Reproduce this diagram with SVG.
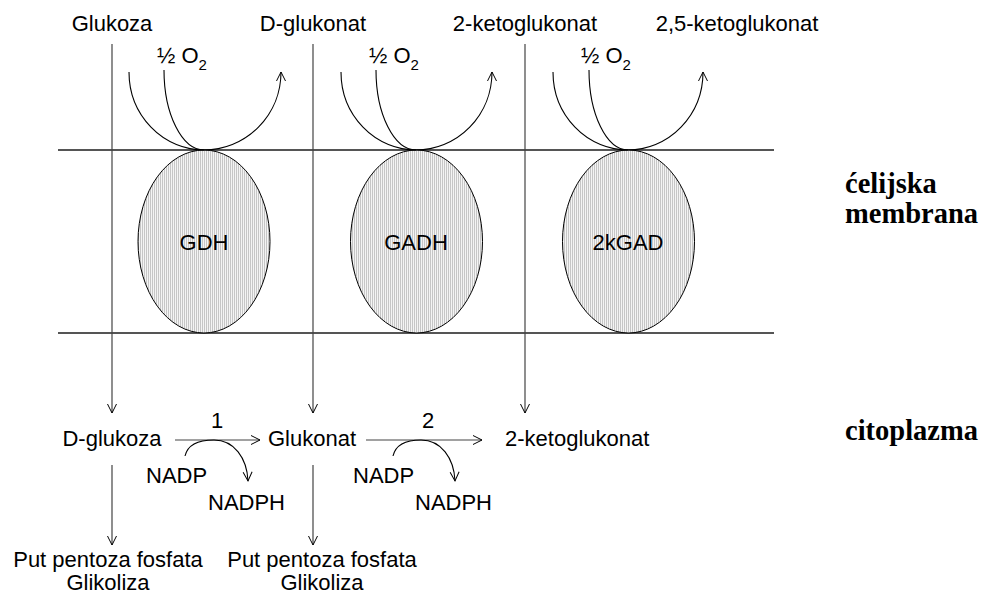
<svg xmlns="http://www.w3.org/2000/svg" width="986" height="594" viewBox="0 0 986 594">
  <defs>
    <pattern id="hatch" width="2" height="4" patternUnits="userSpaceOnUse">
      <rect width="2" height="4" fill="#f4f4f4"/>
      <rect width="1" height="4" fill="#c6c6c6"/>
    </pattern>
    <marker id="arr" viewBox="-10 -6 12 12" markerWidth="12" markerHeight="12" refX="0" refY="0" orient="auto" markerUnits="userSpaceOnUse">
      <path d="M-9,-4.5 L0,0 L-9,4.5" fill="none" stroke="#000" stroke-width="1"/>
    </marker>
  </defs>
  <style>
    .t { font-family: "Liberation Sans", Arial, sans-serif; font-size: 22px; fill: #000; }
    .m { text-anchor: middle; }
    .b { font-family: "Liberation Serif", "Times New Roman", serif; font-weight: bold; font-size: 28.5px; fill: #000; }
    .mem { stroke: #555; stroke-width: 2; fill: none; }
    .v { stroke: #444; stroke-width: 1.2; fill: none; }
    .c { stroke: #000; stroke-width: 1.1; fill: none; }
    .enz { fill: url(#hatch); stroke: #000; stroke-width: 1; }
  </style>

  <!-- membrane boundaries -->
  <g id="membrane">
    <line class="mem" x1="58" y1="150" x2="774" y2="150"/>
    <line class="mem" x1="58" y1="333" x2="774" y2="333"/>
  </g>

  <!-- enzymes -->
  <g id="GDH">
    <ellipse class="enz" cx="204" cy="241.5" rx="66" ry="91.5"/>
    <text class="t m" x="204" y="250">GDH</text>
  </g>
  <g id="GADH">
    <ellipse class="enz" cx="416.5" cy="241.5" rx="66" ry="91.5"/>
    <text class="t m" x="416" y="250">GADH</text>
  </g>
  <g id="kGAD2">
    <ellipse class="enz" cx="628.5" cy="241.5" rx="66" ry="91.5"/>
    <text class="t m" x="628" y="250">2kGAD</text>
  </g>

  <!-- extracellular substrates / products -->
  <g id="glukoza"><text class="t m" x="112" y="31">Glukoza</text></g>
  <g id="d-glukonat"><text class="t m" x="313" y="31">D-glukonat</text></g>
  <g id="ketoglukonat"><text class="t m" x="525" y="31">2-ketoglukonat</text></g>
  <g id="diketoglukonat"><text class="t m" x="737" y="31">2,5-ketoglukonat</text></g>

  <g id="o2-1"><text class="t" x="157" y="63">½ O<tspan font-size="15" dy="7">2</tspan></text></g>
  <g id="o2-2"><text class="t" x="369" y="63">½ O<tspan font-size="15" dy="7">2</tspan></text></g>
  <g id="o2-3"><text class="t" x="581" y="63">½ O<tspan font-size="15" dy="7">2</tspan></text></g>

  <!-- compartment labels -->
  <g id="label-membrane">
    <text class="b" x="845" y="193">ćelijska</text>
    <text class="b" x="845" y="223">membrana</text>
  </g>
  <g id="label-cytoplasm">
    <text class="b" x="845" y="440">citoplazma</text>
  </g>

  <!-- cytoplasmic metabolites -->
  <g id="d-glukoza"><text class="t m" x="112" y="446">D-glukoza</text></g>
  <g id="glukonat"><text class="t m" x="312" y="446">Glukonat</text></g>
  <g id="ketoglukonat-c"><text class="t" x="505" y="446">2-ketoglukonat</text></g>
  <g id="step1"><text class="t m" x="217" y="428">1</text></g>
  <g id="step2"><text class="t m" x="428" y="428">2</text></g>
  <g id="nadp-1"><text class="t" x="146" y="483">NADP</text></g>
  <g id="nadph-1"><text class="t" x="208" y="510">NADPH</text></g>
  <g id="nadp-2"><text class="t" x="353" y="483">NADP</text></g>
  <g id="nadph-2"><text class="t" x="415" y="510">NADPH</text></g>
  <g id="ppp-1">
    <text class="t m" x="108" y="567">Put pentoza fosfata</text>
    <text class="t m" x="108" y="590">Glikoliza</text>
  </g>
  <g id="ppp-2">
    <text class="t m" x="322" y="567">Put pentoza fosfata</text>
    <text class="t m" x="322" y="590">Glikoliza</text>
  </g>

  <!-- connectors -->
  <g id="connectors">
    <!-- transport lines across the membrane -->
    <line class="v" x1="112" y1="44" x2="112" y2="413" marker-end="url(#arr)"/>
    <line class="v" x1="313" y1="44" x2="313" y2="413" marker-end="url(#arr)"/>
    <line class="v" x1="525" y1="44" x2="525" y2="413" marker-end="url(#arr)"/>

    <!-- oxidation curves at the membrane -->
    <path class="c" d="M129,72 A75,78 0 0 0 204,150"/>
    <path class="c" d="M164,70 A40,80 0 0 0 204,150"/>
    <path class="c" d="M204,150 A77,78 0 0 0 281,72" marker-end="url(#arr)"/>

    <path class="c" d="M341,72 A75,78 0 0 0 416,150"/>
    <path class="c" d="M376,70 A40,80 0 0 0 416,150"/>
    <path class="c" d="M416,150 A76,78 0 0 0 492,72" marker-end="url(#arr)"/>

    <path class="c" d="M553,72 A75,78 0 0 0 628,150"/>
    <path class="c" d="M589,70 A39,80 0 0 0 628,150"/>
    <path class="c" d="M628,150 A75,78 0 0 0 703,72" marker-end="url(#arr)"/>

    <!-- cytoplasmic reactions -->
    <line class="v" x1="175" y1="440" x2="260" y2="440" marker-end="url(#arr)"/>
    <line class="v" x1="366" y1="440" x2="482" y2="440" marker-end="url(#arr)"/>
    <path class="c" d="M185,456 C188,443 202,440 214,440 C234,440 247,458 248,481" marker-end="url(#arr)"/>
    <path class="c" d="M393,456 C396,443 410,440 421,440 C441,440 454,458 455,481" marker-end="url(#arr)"/>

    <!-- downstream pathways -->
    <line class="v" x1="112" y1="465" x2="112" y2="545" marker-end="url(#arr)"/>
    <line class="v" x1="313" y1="465" x2="313" y2="545" marker-end="url(#arr)"/>
  </g>
</svg>
